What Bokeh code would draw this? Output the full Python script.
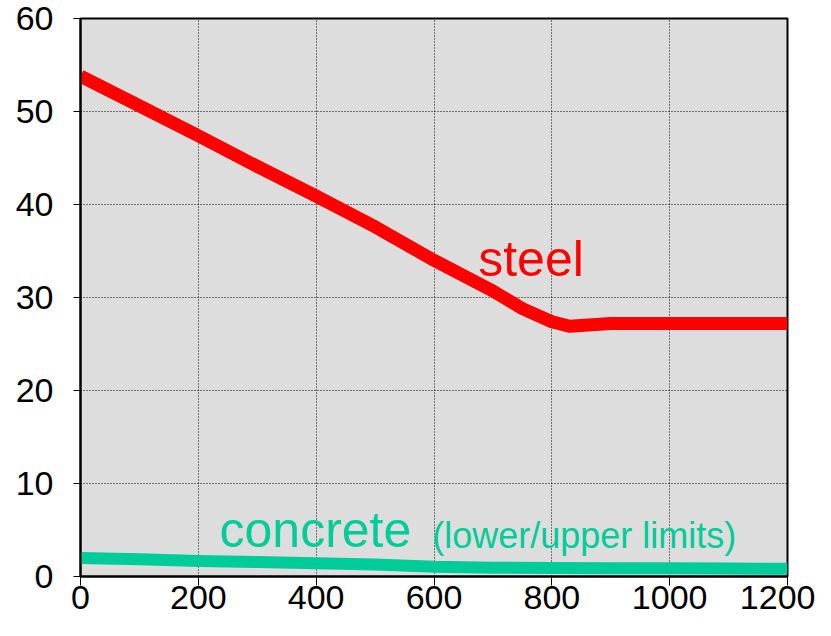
from bokeh.plotting import figure
from bokeh.models import Range1d, Label, FixedTicker
from bokeh.embed import file_html
from bokeh.resources import INLINE

# data
temp = [0, 100, 200, 300, 400, 500, 600, 700, 750, 800, 830, 900, 1000, 1100, 1200]
steel = [53.8, 50.6, 47.4, 44.1, 40.9, 37.6, 34.0, 30.7, 28.8, 27.4, 26.9, 27.2, 27.2, 27.2, 27.2]
temp_c = [0, 100, 200, 300, 400, 500, 600, 700, 800, 900, 1000, 1100, 1200]
concrete = [2.0, 1.85, 1.67, 1.55, 1.42, 1.3, 1.05, 0.95, 0.92, 0.9, 0.9, 0.85, 0.82]
x_ticks = [0, 200, 400, 600, 800, 1000, 1200]
y_ticks = [0, 10, 20, 30, 40, 50, 60]

FONT = "Liberation Sans"

p = figure(width=815, height=620, output_backend="svg", toolbar_location=None,
           x_range=Range1d(0, 1200), y_range=Range1d(0, 60),
           min_border_left=80, min_border_right=28, min_border_top=18, min_border_bottom=44)

p.background_fill_color = "#dddddd"
p.border_fill_color = "white"
p.outline_line_color = "black"
p.outline_line_width = 2

for ax, ticks in ((p.xaxis, x_ticks), (p.yaxis, y_ticks)):
    ax.ticker = FixedTicker(ticks=ticks)
    ax.axis_line_color = "black"
    ax.axis_line_width = 2
    ax.major_tick_line_color = "black"
    ax.major_tick_line_width = 1
    ax.major_tick_in = 0
    ax.minor_tick_line_color = None
    ax.major_label_text_font = FONT
    ax.major_label_text_font_size = "34px"
    ax.major_label_text_color = "black"
p.xaxis.major_tick_out = 9
p.yaxis.major_tick_out = 7
p.xaxis.major_label_standoff = 0
p.yaxis.major_label_standoff = 20

p.grid.grid_line_color = "black"
p.grid.grid_line_dash = "1 2"
p.grid.grid_line_width = 1
p.xgrid.ticker = FixedTicker(ticks=x_ticks)
p.ygrid.ticker = FixedTicker(ticks=y_ticks)

p.line(temp, steel, line_color="#ff0000", line_width=13, line_join="round")
p.line(temp_c, concrete, line_color="#00cc99", line_width=12, line_join="round")

p.add_layout(Label(x=675, y=34.1, text="steel", text_font=FONT, text_font_size="50px",
                   text_color="#ff0000", text_baseline="alphabetic"))
p.add_layout(Label(x=236, y=5.0, text="concrete", text_font=FONT, text_font_size="50px",
                   text_color="#00cc99", text_baseline="alphabetic"))
p.add_layout(Label(x=597, y=4.45, text="(lower/upper limits)", text_font=FONT, text_font_size="36px",
                   text_color="#00cc99", text_baseline="alphabetic"))

open("out.html", "w").write(file_html(p, INLINE))
